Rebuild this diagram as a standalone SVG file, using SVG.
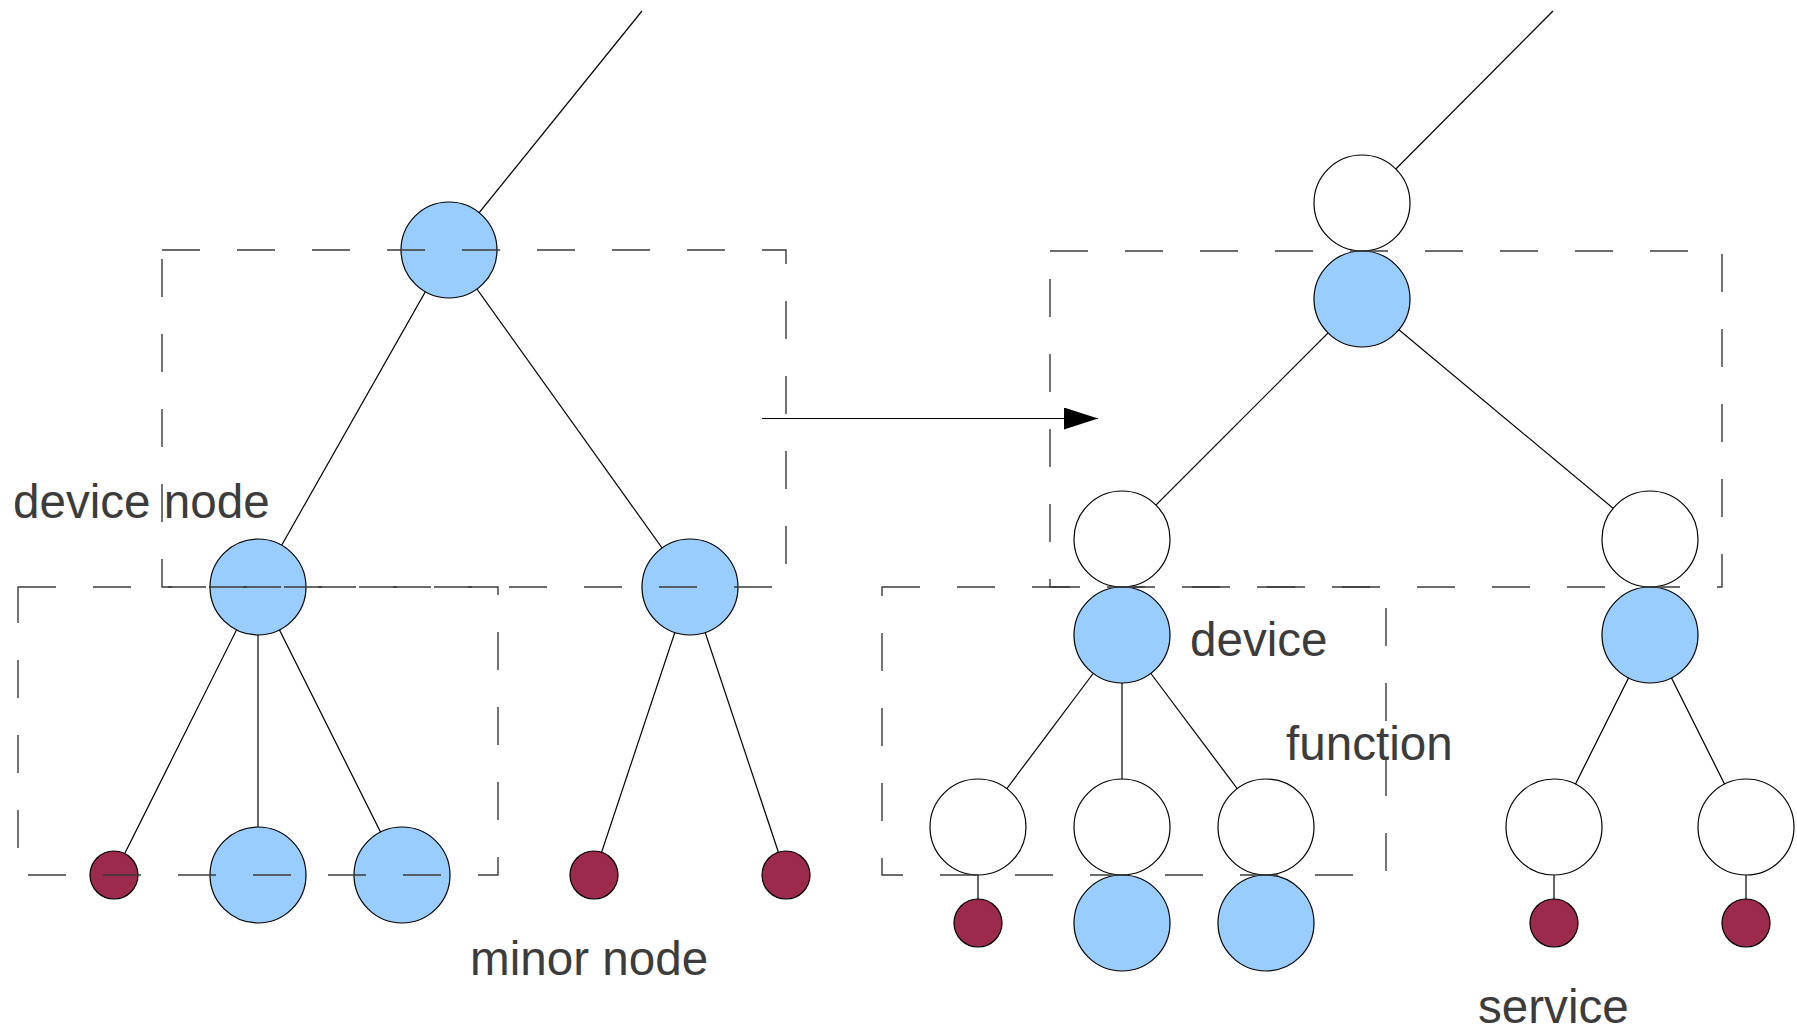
<svg xmlns="http://www.w3.org/2000/svg" width="1797" height="1032" viewBox="0 0 1797 1032">
<style>
.e{stroke:#000;stroke-width:1.2;fill:none}
.d{stroke:#3a3a3a;stroke-width:1.4;fill:none;stroke-dasharray:38 37}
.b{fill:#99ccff;stroke:#000;stroke-width:1.2}
.w{fill:#fff;stroke:#000;stroke-width:1.2}
.r{fill:#9c2a4c;stroke:#000;stroke-width:1.2}
.t{font-family:"Liberation Sans",Arial,sans-serif;font-size:47.6px;fill:#3c3c3c}
</style>
<defs>
<marker id="ah" markerUnits="userSpaceOnUse" markerWidth="34" markerHeight="24" refX="34" refY="11" orient="auto">
<path d="M0,0 L34,11 L0,22 Z" fill="#000"/>
</marker>
</defs>
<rect width="1797" height="1032" fill="#fff"/>
<g id="connectors">
<line class="e" x1="642" y1="11" x2="449" y2="250"/>
<line class="e" x1="449" y1="250" x2="258" y2="587"/>
<line class="e" x1="449" y1="250" x2="690" y2="587"/>
<line class="e" x1="258" y1="587" x2="114" y2="875"/>
<line class="e" x1="258" y1="587" x2="258" y2="875"/>
<line class="e" x1="258" y1="587" x2="402" y2="875"/>
<line class="e" x1="690" y1="587" x2="594" y2="875"/>
<line class="e" x1="690" y1="587" x2="786" y2="875"/>
<line class="e" x1="1553" y1="11" x2="1362" y2="203"/>
<line class="e" x1="1362" y1="299" x2="1122" y2="539"/>
<line class="e" x1="1362" y1="299" x2="1650" y2="539"/>
<line class="e" x1="1122" y1="635" x2="978" y2="827"/>
<line class="e" x1="1122" y1="635" x2="1122" y2="827"/>
<line class="e" x1="1122" y1="635" x2="1266" y2="827"/>
<line class="e" x1="1650" y1="635" x2="1554" y2="827"/>
<line class="e" x1="1650" y1="635" x2="1746" y2="827"/>
<line class="e" x1="978" y1="875" x2="978" y2="900"/>
<line class="e" x1="1554" y1="875" x2="1554" y2="900"/>
<line class="e" x1="1746" y1="875" x2="1746" y2="900"/>
<line class="e" x1="762" y1="418.5" x2="1098" y2="418.5" marker-end="url(#ah)"/>
</g>
<g id="left-root"><circle class="b" cx="449" cy="250" r="48"/></g>
<g id="left-child-a"><circle class="b" cx="258" cy="587" r="48"/></g>
<g id="left-child-b"><circle class="b" cx="690" cy="587" r="48"/></g>
<g id="left-leaf-1"><circle class="r" cx="114" cy="875" r="24"/></g>
<g id="left-leaf-2"><circle class="b" cx="258" cy="875" r="48"/></g>
<g id="left-leaf-3"><circle class="b" cx="402" cy="875" r="48"/></g>
<g id="left-leaf-4"><circle class="r" cx="594" cy="875" r="24"/></g>
<g id="left-leaf-5"><circle class="r" cx="786" cy="875" r="24"/></g>
<g id="right-root-top"><circle class="w" cx="1362" cy="203" r="48"/></g>
<g id="right-root"><circle class="b" cx="1362" cy="299" r="48"/></g>
<g id="right-a-top"><circle class="w" cx="1122" cy="539" r="48"/></g>
<g id="right-a"><circle class="b" cx="1122" cy="635" r="48"/></g>
<g id="right-b-top"><circle class="w" cx="1650" cy="539" r="48"/></g>
<g id="right-b"><circle class="b" cx="1650" cy="635" r="48"/></g>
<g id="right-f1"><circle class="w" cx="978" cy="827" r="48"/></g>
<g id="right-f2"><circle class="w" cx="1122" cy="827" r="48"/></g>
<g id="right-f3"><circle class="w" cx="1266" cy="827" r="48"/></g>
<g id="right-f4"><circle class="w" cx="1554" cy="827" r="48"/></g>
<g id="right-f5"><circle class="w" cx="1746" cy="827" r="48"/></g>
<g id="right-s1"><circle class="r" cx="978" cy="923" r="24"/></g>
<g id="right-s2"><circle class="b" cx="1122" cy="923" r="48"/></g>
<g id="right-s3"><circle class="b" cx="1266" cy="923" r="48"/></g>
<g id="right-s4"><circle class="r" cx="1554" cy="923" r="24"/></g>
<g id="right-s5"><circle class="r" cx="1746" cy="923" r="24"/></g>
<g id="boxes">
<rect class="d" x="162" y="250" width="624" height="337"/>
<rect class="d" x="18" y="587" width="480" height="288"/>
<rect class="d" x="1050" y="251" width="672" height="336"/>
<rect class="d" x="882" y="587" width="504" height="288"/>
</g>
<g id="labels">
<text class="t" x="13" y="518">device node</text>
<text class="t" x="470" y="975">minor node</text>
<text class="t" x="1190" y="656">device</text>
<text class="t" x="1286" y="760">function</text>
<text class="t" x="1478" y="1023">service</text>
</g>
</svg>
